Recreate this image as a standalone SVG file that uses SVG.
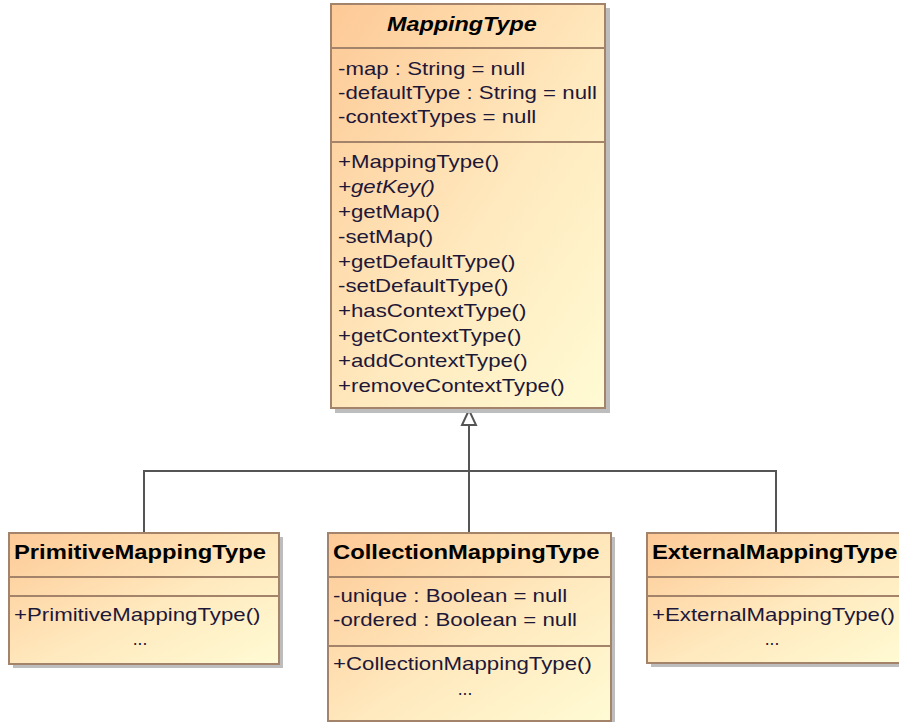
<svg xmlns="http://www.w3.org/2000/svg" width="899" height="722" viewBox="0 0 899 722">
<defs>
<linearGradient id="fill" x1="0" y1="0" x2="1" y2="1">
<stop offset="0" stop-color="#FDC996"/>
<stop offset="0.55" stop-color="#FFE9BE"/>
<stop offset="1" stop-color="#FFFBD4"/>
</linearGradient>
</defs>
<style>
.box{fill:url(#fill);stroke:#A3846A;stroke-width:2}
.shadow{fill:#BDBDBD}
.div{stroke:#A3846A;stroke-width:2}
.t{font-family:"Liberation Sans",Arial,sans-serif;font-size:17.5px;fill:#1E1838}
.ti{font-style:italic}
.h{font-family:"Liberation Sans",Arial,sans-serif;font-size:20px;font-weight:bold;fill:#000}
.hi{font-style:italic;font-size:19.5px}
.conn{stroke:#555;stroke-width:2;fill:none}
.tri{stroke:#555;stroke-width:2;fill:#fff}
</style>

<g id="connectors">
<path class="conn" d="M144 533 V471 H776 V533"/>
<path class="conn" d="M469 533 V425"/>
<polygon class="tri" points="469,410 462,425 476,425"/>
</g>

<g id="MappingType">
<rect class="shadow" x="335" y="8" width="275" height="405"/>
<rect class="box" x="331" y="4" width="274" height="404"/>
<line class="div" x1="331" y1="48" x2="605" y2="48"/>
<line class="div" x1="331" y1="142" x2="605" y2="142"/>
<g transform="translate(387,0) scale(1.2,1)">
<text class="h hi" x="0" y="31">MappingType</text>
</g>
<g transform="translate(338,0) scale(1.271,1)">
<text class="t" x="0" y="75">-map : String = null</text>
<text class="t" x="0" y="99">-defaultType : String = null</text>
<text class="t" x="0" y="123">-contextTypes = null</text>
<text class="t" x="0" y="168">+MappingType()</text>
<text class="t ti" x="0" y="193">+getKey()</text>
<text class="t" x="0" y="218">+getMap()</text>
<text class="t" x="0" y="243">-setMap()</text>
<text class="t" x="0" y="268">+getDefaultType()</text>
<text class="t" x="0" y="292">-setDefaultType()</text>
<text class="t" x="0" y="317">+hasContextType()</text>
<text class="t" x="0" y="342">+getContextType()</text>
<text class="t" x="0" y="367">+addContextType()</text>
<text class="t" x="0" y="392">+removeContextType()</text>
</g>
</g>

<g id="PrimitiveMappingType">
<rect class="shadow" x="13" y="537" width="270" height="131"/>
<rect class="box" x="9" y="533" width="270" height="131"/>
<line class="div" x1="9" y1="577" x2="279" y2="577"/>
<line class="div" x1="9" y1="596" x2="279" y2="596"/>
<g transform="translate(14,0) scale(1.19,1)">
<text class="h" x="0" y="559">PrimitiveMappingType</text>
</g>
<g transform="translate(14,0) scale(1.271,1)">
<text class="t" x="0" y="621">+PrimitiveMappingType()</text>
</g>
<text class="t" x="140" y="645" text-anchor="middle">...</text>
</g>

<g id="CollectionMappingType">
<rect class="shadow" x="332" y="537" width="283" height="190"/>
<rect class="box" x="328" y="533" width="283" height="188"/>
<line class="div" x1="328" y1="577" x2="611" y2="577"/>
<line class="div" x1="328" y1="646" x2="611" y2="646"/>
<g transform="translate(333,0) scale(1.19,1)">
<text class="h" x="0" y="559">CollectionMappingType</text>
</g>
<g transform="translate(333,0) scale(1.271,1)">
<text class="t" x="0" y="602">-unique : Boolean = null</text>
<text class="t" x="0" y="626">-ordered : Boolean = null</text>
<text class="t" x="0" y="670">+CollectionMappingType()</text>
</g>
<text class="t" x="465" y="695" text-anchor="middle">...</text>
</g>

<g id="ExternalMappingType">
<rect class="shadow" x="651" y="537" width="260" height="130"/>
<rect class="box" x="647" y="533" width="260" height="130"/>
<line class="div" x1="647" y1="577" x2="907" y2="577"/>
<line class="div" x1="647" y1="596" x2="907" y2="596"/>
<g transform="translate(652,0) scale(1.19,1)">
<text class="h" x="0" y="559">ExternalMappingType</text>
</g>
<g transform="translate(652,0) scale(1.271,1)">
<text class="t" x="0" y="621">+ExternalMappingType()</text>
</g>
<text class="t" x="772" y="645" text-anchor="middle">...</text>
</g>
</svg>
